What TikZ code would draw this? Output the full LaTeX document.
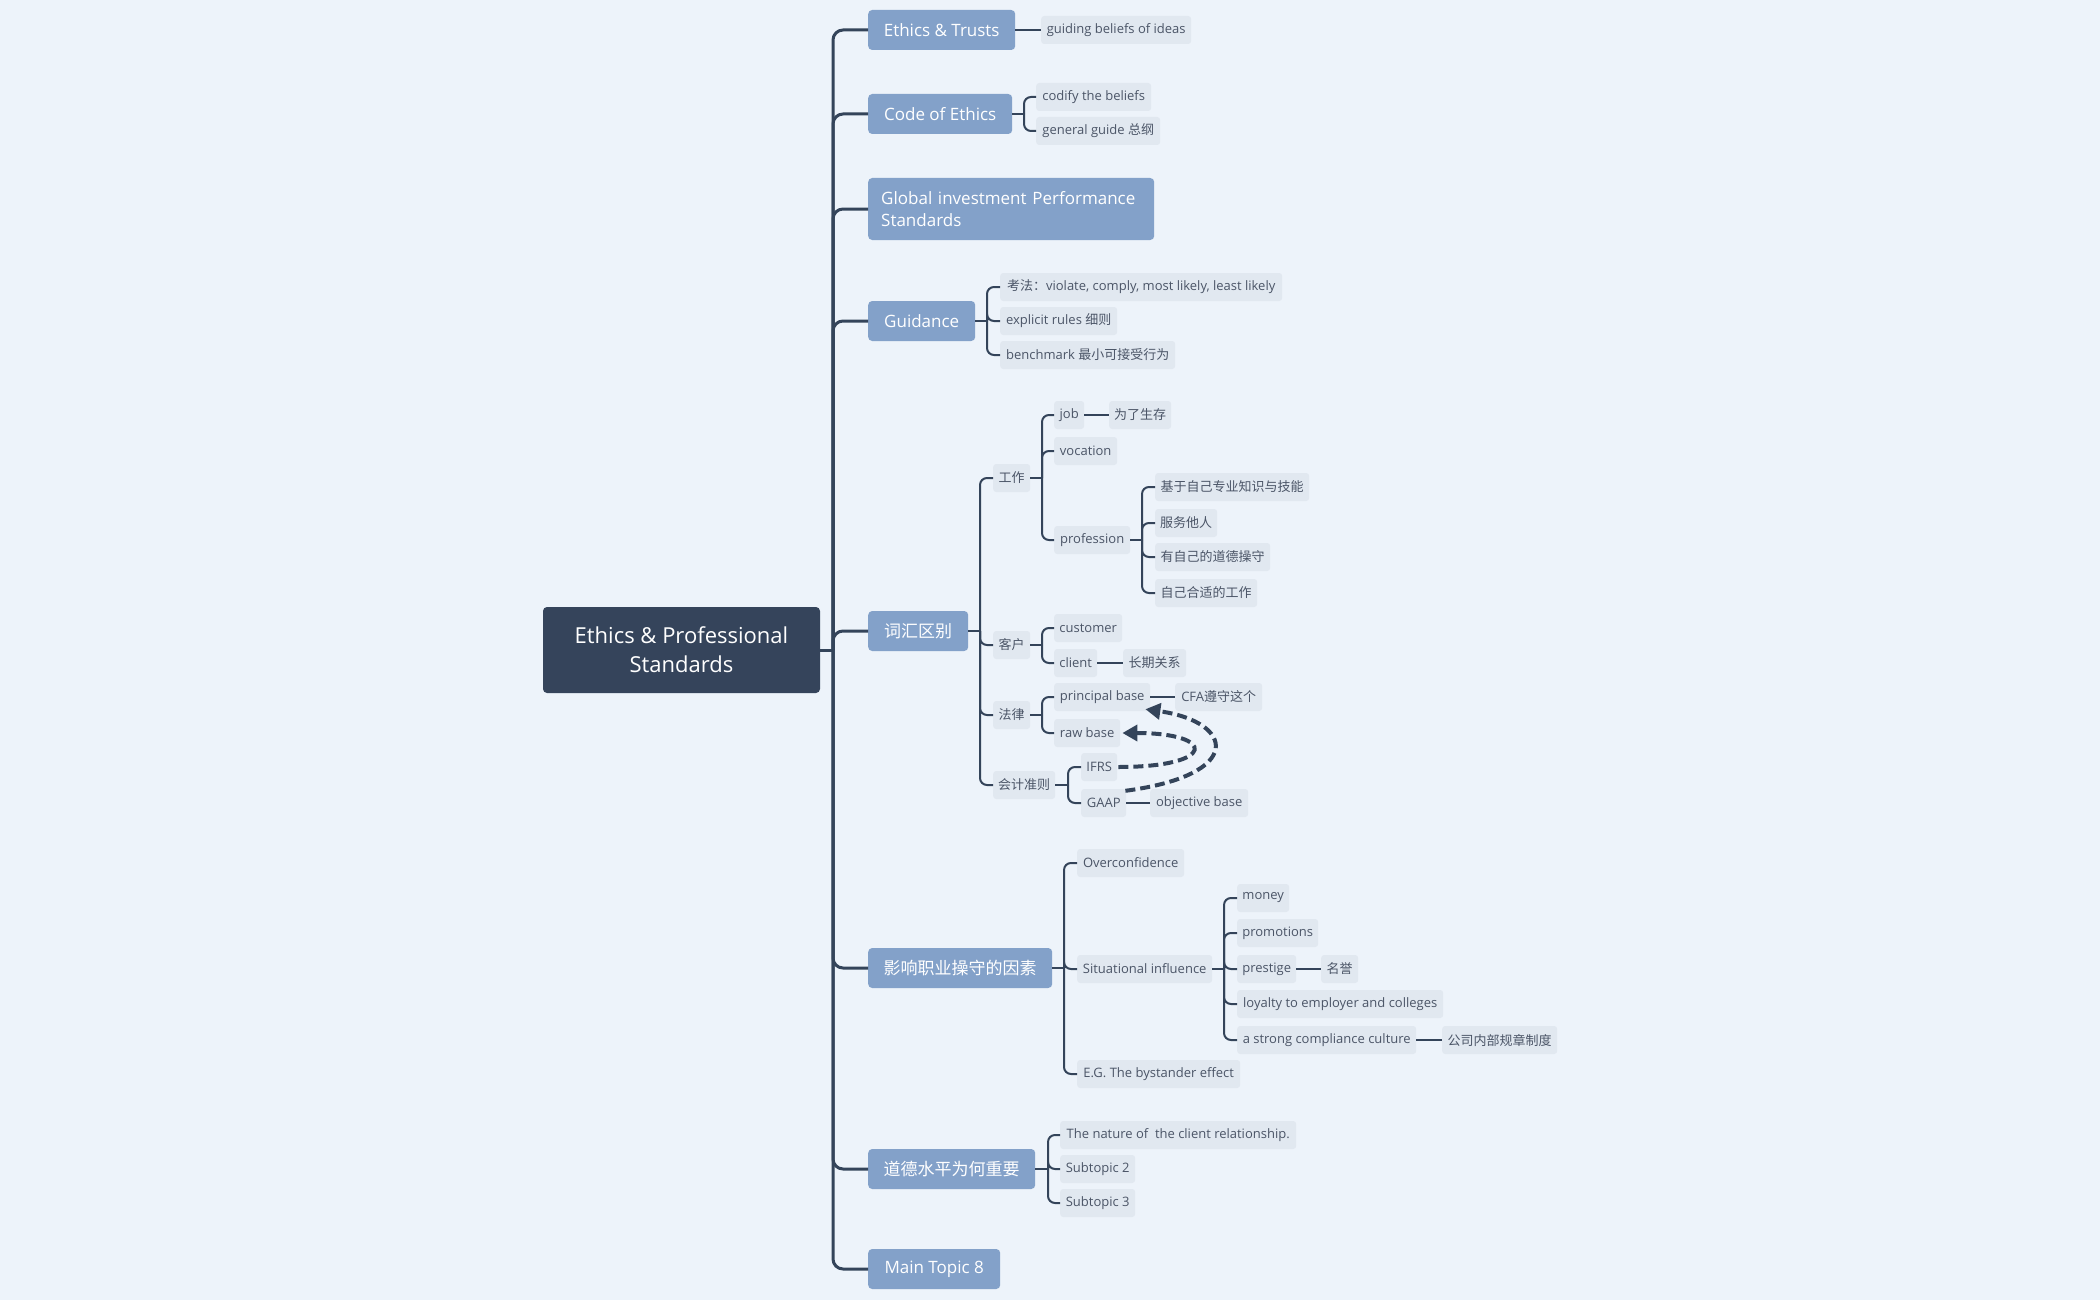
\documentclass[tikz,border=0pt]{standalone}
\usepackage{fontspec}
\setmainfont{Open Sans}
\newfontfamily\cjk{Noto Sans CJK SC}
\usetikzlibrary{arrows.meta}
\definecolor{bgC}{HTML}{EDF3FA}
\definecolor{mainC}{HTML}{83A1C9}
\definecolor{centC}{HTML}{35445B}
\definecolor{subC}{HTML}{E1E8F0}
\definecolor{lineC}{HTML}{34445A}
\definecolor{txtC}{HTML}{4B5567}
\tikzset{
 mainbox/.style={anchor=west, fill=mainC, rounded corners=4pt, text=white,
   font=\fontsize{17}{22}\selectfont, minimum height=40pt, inner sep=0pt},
 subbox/.style={anchor=west, fill=subC, rounded corners=3pt, text=txtC,
   font=\fontsize{13}{15}\selectfont, minimum height=28pt, inner sep=0pt},
 conn/.style={draw=lineC, line width=2pt, rounded corners=7pt},
 trunk/.style={draw=lineC, line width=3pt, rounded corners=10pt},
 dasharrow/.style={draw=lineC, line width=4pt, dash pattern=on 10pt off 5pt,
   -{Triangle[length=15pt,width=16pt]}}
}
\begin{document}
\begin{tikzpicture}[x=1pt,y=-1pt]
\fill[bgC] (0,0) rectangle (2100,1300);
\useasboundingbox (0,0) rectangle (2100,1300);

% central
\node[fill=centC, rounded corners=4pt, text=white, minimum width=277pt, minimum height=86pt,
  inner sep=0pt, align=center, font=\fontsize{22}{29}\selectfont] (cen) at (681.5,650)
  {Ethics \& Professional\\Standards};

% main topics
\node[mainbox, minimum width=147pt] (et) at (868,30) {Ethics \& Trusts};
\node[mainbox, minimum width=144pt] (coe) at (868,114) {Code of Ethics};
\node[mainbox, minimum width=286pt, minimum height=62pt, inner xsep=13pt, align=left, text width=260pt,
  font=\fontsize{17}{21.5}\selectfont] (gips) at (868,209) {Global investment Performance\\Standards};
\node[mainbox, minimum width=107pt] (gui) at (868,321) {Guidance};
\node[mainbox, minimum width=100pt] (chb) at (868,631) {\cjk 词汇区别};
\node[mainbox, minimum width=184pt] (yx) at (868,968) {\cjk 影响职业操守的因素};
\node[mainbox, minimum width=167pt] (dd) at (868,1169) {\cjk 道德水平为何重要};
\node[mainbox, minimum width=132pt] (mt) at (868,1269) {Main Topic 8};

% subtopics
\node[subbox, minimum width=150pt] (gb) at (1041,30) {guiding beliefs of ideas};
\node[subbox, minimum width=115pt] (cod) at (1036,97) {codify the beliefs};
\node[subbox, minimum width=124pt] (gg) at (1036,131) {general guide {\cjk 总纲}};
\node[subbox, minimum width=282pt] (kf) at (1000,287) {{\cjk 考法：}violate, comply, most likely, least likely};
\node[subbox, minimum width=117pt] (er) at (1000,321) {explicit rules {\cjk 细则}};
\node[subbox, minimum width=175pt] (bm) at (1000,355) {benchmark {\cjk 最小可接受行为}};

\node[subbox, minimum width=37pt] (gz) at (993,478) {\cjk 工作};
\node[subbox, minimum width=37pt] (kh) at (993,645) {\cjk 客户};
\node[subbox, minimum width=37pt] (fl) at (993,715) {\cjk 法律};
\node[subbox, minimum width=62pt] (kj) at (993,785) {\cjk 会计准则};

\node[subbox, minimum width=30pt] (job) at (1054,415) {job};
\node[subbox, minimum width=62pt] (wl) at (1109,415) {\cjk 为了生存};
\node[subbox, minimum width=63pt] (voc) at (1054,451) {vocation};
\node[subbox, minimum width=76pt] (prof) at (1054,540) {profession};
\node[subbox, minimum width=154pt] (p1) at (1155,487) {\cjk 基于自己专业知识与技能};
\node[subbox, minimum width=62pt] (p2) at (1155,523) {\cjk 服务他人};
\node[subbox, minimum width=115pt] (p3) at (1155,557) {\cjk 有自己的道德操守};
\node[subbox, minimum width=102pt] (p4) at (1155,593) {\cjk 自己合适的工作};

\node[subbox, minimum width=68pt] (cus) at (1054,628) {customer};
\node[subbox, minimum width=43pt] (cli) at (1054,663) {client};
\node[subbox, minimum width=63pt] (cq) at (1123,663) {\cjk 长期关系};
\node[subbox, minimum width=96pt] (pb) at (1054,697) {principal base};
\node[subbox, minimum width=87pt] (cfa) at (1175,697) {CFA{\cjk 遵守这个}};
\node[subbox, minimum width=66pt] (raw) at (1054,733) {raw base};
\node[subbox, minimum width=36pt] (ifrs) at (1081,767) {IFRS};
\node[subbox, minimum width=45pt] (gaap) at (1081,803) {GAAP};
\node[subbox, minimum width=98pt] (ob) at (1150,803) {objective base};

\node[subbox, minimum width=107pt] (oc) at (1077,863) {Overconfidence};
\node[subbox, minimum width=135pt] (si) at (1077,969) {Situational influence};
\node[subbox, minimum width=163pt] (eg) at (1077,1074) {E.G. The bystander effect};
\node[subbox, minimum width=52pt] (mon) at (1237,898) {money};
\node[subbox, minimum width=81pt] (pro) at (1237,933) {promotions};
\node[subbox, minimum width=59pt] (pre) at (1237,969) {prestige};
\node[subbox, minimum width=37pt] (my) at (1321,969) {\cjk 名誉};
\node[subbox, minimum width=206pt] (loy) at (1237,1004) {loyalty to employer and colleges};
\node[subbox, minimum width=179pt] (scc) at (1237,1040) {a strong compliance culture};
\node[subbox, minimum width=115pt] (gs) at (1442,1040) {\cjk 公司内部规章制度};

\node[subbox, minimum width=236pt] (nat) at (1060,1135) {The nature of\ \ the client relationship.};
\node[subbox, minimum width=75pt] (s2) at (1060,1169) {Subtopic 2};
\node[subbox, minimum width=75pt] (s3) at (1060,1203) {Subtopic 3};

% bus coordinates
\coordinate (bT) at (833,0);
\coordinate (bC) at (1024,0);
\coordinate (bG) at (987,0);
\coordinate (bW) at (980,0);
\coordinate (bZ) at (1042,0);
\coordinate (bK) at (1068,0);
\coordinate (bP) at (1142,0);
\coordinate (bY) at (1064,0);
\coordinate (bS) at (1224,0);
\coordinate (bD) at (1048,0);

% trunk
\draw[trunk] (cen.east) -- (cen.east -| bT);
\foreach \n in {et,coe,gips,gui,chb,yx,dd,mt}
  \draw[trunk] (cen.east -| bT) |- (\n.west);

% single links
\draw[conn] (et.east) -- (gb.west);
\draw[conn] (job.east) -- (wl.west);
\draw[conn] (cli.east) -- (cq.west);
\draw[conn] (pb.east) -- (cfa.west);
\draw[conn] (gaap.east) -- (ob.west);
\draw[conn] (pre.east) -- (my.west);
\draw[conn] (scc.east) -- (gs.west);

% brackets
\draw[conn] (coe.east) -- (coe.east -| bC);
\foreach \n in {cod,gg} \draw[conn] (coe.east -| bC) |- (\n.west);
\draw[conn] (gui.east) -- (gui.east -| bG);
\foreach \n in {kf,er,bm} \draw[conn] (gui.east -| bG) |- (\n.west);
\draw[conn] (chb.east) -- (chb.east -| bW);
\foreach \n in {gz,kh,fl,kj} \draw[conn] (chb.east -| bW) |- (\n.west);
\draw[conn] (gz.east) -- (gz.east -| bZ);
\foreach \n in {job,voc,prof} \draw[conn] (gz.east -| bZ) |- (\n.west);
\draw[conn] (prof.east) -- (prof.east -| bP);
\foreach \n in {p1,p2,p3,p4} \draw[conn] (prof.east -| bP) |- (\n.west);
\draw[conn] (kh.east) -- (kh.east -| bZ);
\foreach \n in {cus,cli} \draw[conn] (kh.east -| bZ) |- (\n.west);
\draw[conn] (fl.east) -- (fl.east -| bZ);
\foreach \n in {pb,raw} \draw[conn] (fl.east -| bZ) |- (\n.west);
\draw[conn] (kj.east) -- (kj.east -| bK);
\foreach \n in {ifrs,gaap} \draw[conn] (kj.east -| bK) |- (\n.west);
\draw[conn] (yx.east) -- (yx.east -| bY);
\foreach \n in {oc,si,eg} \draw[conn] (yx.east -| bY) |- (\n.west);
\draw[conn] (si.east) -- (si.east -| bS);
\foreach \n in {mon,pro,pre,loy,scc} \draw[conn] (si.east -| bS) |- (\n.west);
\draw[conn] (dd.east) -- (dd.east -| bD);
\foreach \n in {nat,s2,s3} \draw[conn] (dd.east -| bD) |- (\n.west);

% dashed arrows
\draw[dasharrow] ([xshift=1pt]ifrs.east) .. controls (1217,767) and (1217,733) .. ([xshift=2pt]raw.east);
\draw[dasharrow] ([xshift=-1pt,yshift=-2pt]gaap.north east) .. controls (1245,775) and (1235,722) .. ([xshift=-5pt,yshift=2pt]pb.south east);
\end{tikzpicture}
\end{document}
